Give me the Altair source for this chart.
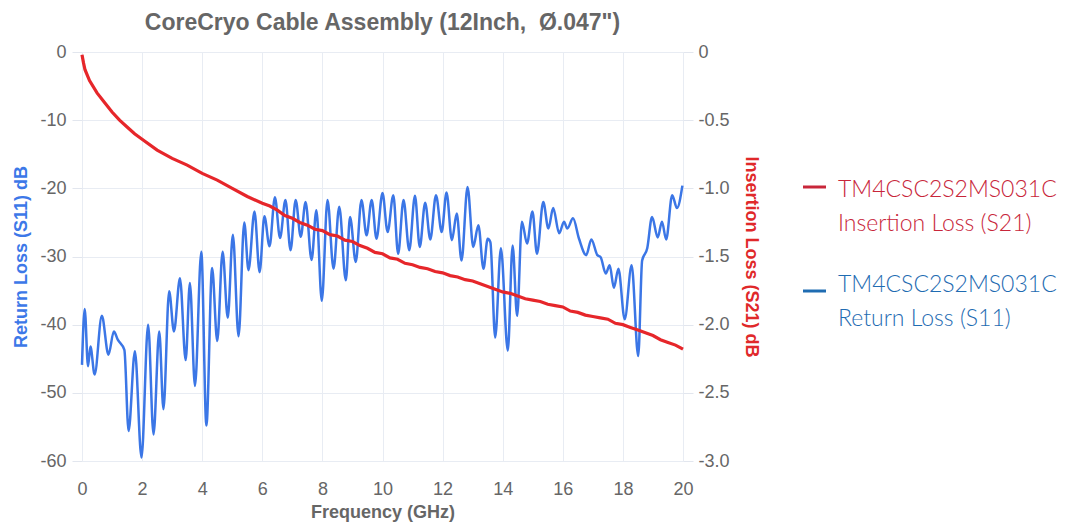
import altair as alt
import pandas as pd

# ---------------- data ----------------
s11_freq = [0.0, 0.09, 0.2, 0.28, 0.42, 0.66, 0.88, 1.06, 1.19, 1.41, 1.55, 1.76, 1.98,
            2.2, 2.38, 2.57, 2.71, 2.9, 3.06, 3.26, 3.45, 3.59, 3.76, 3.97, 4.14, 4.33,
            4.50, 4.68, 4.85, 5.02, 5.21, 5.4, 5.54, 5.74, 5.91, 6.07, 6.24, 6.42, 6.59,
            6.77, 6.94, 7.11, 7.28, 7.44, 7.64, 7.8, 7.98, 8.17, 8.37, 8.56, 8.78, 8.92,
            9.11, 9.30, 9.47, 9.64, 9.8, 10.0, 10.17, 10.36, 10.52, 10.7, 10.89, 11.08,
            11.24, 11.42, 11.59, 11.78, 11.97, 12.13, 12.31, 12.47, 12.63, 12.83, 13.02,
            13.19, 13.36, 13.5, 13.59, 13.75, 13.94, 14.17, 14.33, 14.48, 14.64, 14.81,
            14.99, 15.14, 15.35, 15.52, 15.68, 15.88, 16.04, 16.15, 16.34, 16.54, 16.78,
            16.95, 17.15, 17.26, 17.43, 17.56, 17.7, 17.85, 18.06, 18.29, 18.51, 18.64,
            18.81, 18.97, 19.16, 19.3, 19.44, 19.64, 19.8, 19.98]
s11_db = [-45.9, -37.7, -46.1, -43.2, -47.3, -38.7, -44.4, -41.0, -42.2, -43.7, -55.6, -43.9, -59.5,
          -40.0, -56.1, -41.0, -52.4, -35.1, -41.0, -33.2, -45.2, -33.9, -49.0, -29.3, -54.8, -31.7,
          -42.4, -29.3, -39.0, -26.8, -41.7, -25.0, -32.0, -23.4, -32.3, -24.1, -28.5, -21.3, -27.3,
          -21.7, -29.1, -21.7, -27.1, -22.0, -30.5, -23.2, -36.5, -21.7, -31.8, -22.7, -33.5, -24.2,
          -30.8, -21.7, -26.9, -21.7, -27.4, -20.7, -26.4, -21.0, -29.6, -21.7, -29.1, -21.1,
          -28.6, -22.1, -27.5, -21.0, -26.4, -20.6, -27.6, -23.7, -30.6, -19.8, -28.6,
          -25.4, -31.8, -27.4, -27.9, -41.9, -28.8, -43.8, -28.4, -38.7, -24.9, -28.1,
          -23.4, -29.6, -22.0, -25.9, -22.9, -26.6, -24.9, -25.9, -24.4, -27.4, -29.8,
          -27.5, -29.8, -30.1, -32.5, -31.3, -34.6, -31.8, -39.2, -31.3, -44.6, -30.6,
          -28.8, -24.2, -27.2, -24.9, -27.5, -21.0, -22.9, -19.6]

s21_freq = [0.0, 0.05, 0.1, 0.25, 0.5, 0.75, 1.0, 1.25, 1.5, 1.75, 2.0, 2.5, 3.0, 3.5, 4.0,
            4.5, 5.0, 5.5, 6.0, 6.25, 6.5, 6.75, 7.0, 7.25, 7.5, 7.75, 8.0, 8.25, 8.5, 8.75,
            9.0, 9.25, 9.5, 9.75, 10.0, 10.25, 10.5, 10.75, 11.0, 11.25, 11.5, 11.75, 12.0,
            12.25, 12.5, 12.75, 13.0, 13.25, 13.5, 13.75, 14.0, 14.25, 14.5, 14.75, 15.0,
            15.25, 15.5, 15.75, 16.0, 16.25, 16.5, 16.75, 17.0, 17.25, 17.5, 17.75, 18.0,
            18.25, 18.5, 18.75, 19.0, 19.25, 19.5, 19.75, 20.0]
s21_db = [-0.02, -0.08, -0.13, -0.21, -0.30, -0.37, -0.44, -0.50, -0.55, -0.60, -0.64, -0.72,
          -0.78, -0.83, -0.89, -0.94, -1.00, -1.06, -1.11, -1.13, -1.16, -1.20, -1.22, -1.25,
          -1.27, -1.30, -1.31, -1.34, -1.35, -1.38, -1.39, -1.42, -1.44, -1.47, -1.48, -1.51,
          -1.52, -1.55, -1.56, -1.58, -1.59, -1.61, -1.62, -1.64, -1.65, -1.67, -1.68, -1.70,
          -1.72, -1.74, -1.76, -1.77, -1.79, -1.81, -1.82, -1.83, -1.85, -1.86, -1.87, -1.90,
          -1.91, -1.93, -1.94, -1.95, -1.96, -1.99, -2.00, -2.02, -2.04, -2.06, -2.08, -2.11,
          -2.13, -2.15, -2.18]

x_ticks = [0, 2, 4, 6, 8, 10, 12, 14, 16, 18, 20]
left_ticks = [0, -10, -20, -30, -40, -50, -60]
right_ticks = [0, -0.5, -1.0, -1.5, -2.0, -2.5, -3.0]

title_text = 'CoreCryo Cable Assembly (12Inch, \u00a0\u00d8.047")'
legend_red_text = "TM4CSC2S2MS031C\nInsertion Loss (S21)"
legend_blue_text = "TM4CSC2S2MS031C\nReturn Loss (S11)"

BLUE_LINE = "#3b76e6"
RED_LINE = "#e6262a"
LEG_RED = "#c8263a"
LEG_BLUE = "#1f6cb2"
GRAY = "#666666"
FONT = "Liberation Sans"

df11 = pd.DataFrame({"freq": s11_freq, "db": s11_db})
df21 = pd.DataFrame({"freq": s21_freq, "db": s21_db})

x_enc = alt.X(
    "freq:Q",
    scale=alt.Scale(domain=[0, 20], nice=False),
    axis=alt.Axis(values=x_ticks, title="Frequency (GHz)", tickSize=0, labelPadding=19,
                  titlePadding=5, grid=True, labelFlush=False),
)

blue = alt.Chart(df11).mark_line(
    color=BLUE_LINE, strokeWidth=2.5, interpolate="monotone"
).encode(
    x=x_enc,
    y=alt.Y(
        "db:Q",
        scale=alt.Scale(domain=[-60, 0], nice=False),
        axis=alt.Axis(orient="left", values=left_ticks, title="Return Loss (S11) dB",
                      titleColor="#3c78e8", tickSize=10, labelPadding=6, titlePadding=9,
                      labelExpr="datum.value == 0 ? '0' : '-' + format(-datum.value, 'd')"),
    ),
)

red = alt.Chart(df21).mark_line(color=RED_LINE, strokeWidth=3.2).encode(
    x=alt.X("freq:Q"),
    y=alt.Y(
        "db:Q",
        scale=alt.Scale(domain=[-3, 0], nice=False),
        axis=alt.Axis(orient="right", values=right_ticks, title="Insertion Loss (S21) dB",
                      titleColor="#e0282a", grid=False, tickSize=10, labelPadding=5,
                      titlePadding=12,
                      labelExpr="datum.value == 0 ? '0' : '-' + format(-datum.value, '.1f')"),
    ),
)

one = pd.DataFrame({"k": [0]})

red_dash = alt.Chart(one).mark_rule(color=LEG_RED, strokeWidth=3).encode(
    x=alt.value(721), x2=alt.value(744), y=alt.value(135)
)
blue_dash = alt.Chart(one).mark_rule(color=LEG_BLUE, strokeWidth=3).encode(
    x=alt.value(721), x2=alt.value(744), y=alt.value(239)
)
red_txt = alt.Chart(pd.DataFrame({"t": [legend_red_text]})).mark_text(
    align="left", baseline="alphabetic", font="Lato", fontSize=23, fontWeight=300,
    color=LEG_RED, lineBreak="\n", lineHeight=34
).encode(text="t:N", x=alt.value(756), y=alt.value(145))
blue_txt = alt.Chart(pd.DataFrame({"t": [legend_blue_text]})).mark_text(
    align="left", baseline="alphabetic", font="Lato", fontSize=23, fontWeight=300,
    color=LEG_BLUE, lineBreak="\n", lineHeight=34
).encode(text="t:N", x=alt.value(756), y=alt.value(240))

chart = alt.layer(blue, red, red_dash, blue_dash, red_txt, blue_txt).resolve_scale(
    y="independent"
).properties(
    width=601,
    height=409,
    autosize=alt.AutoSizeParams(type="none"),
    padding={"left": 74, "top": 44, "right": 377, "bottom": 62},
    title=alt.TitleParams(text=title_text, font=FONT, fontSize=23, fontWeight="bold",
                          color=GRAY, anchor="middle", offset=8),
).configure_view(stroke=None).configure_axis(
    gridColor="#e8ecf3",
    domain=False,
    tickColor="#e2e6ee",
    labelColor=GRAY,
    labelFont=FONT,
    labelFontSize=18,
    titleFont=FONT,
    titleFontSize=18,
    titleFontWeight="bold",
).configure_axisX(titleColor=GRAY)

chart.save("out.html", embed_options={"renderer": "svg", "actions": False})
